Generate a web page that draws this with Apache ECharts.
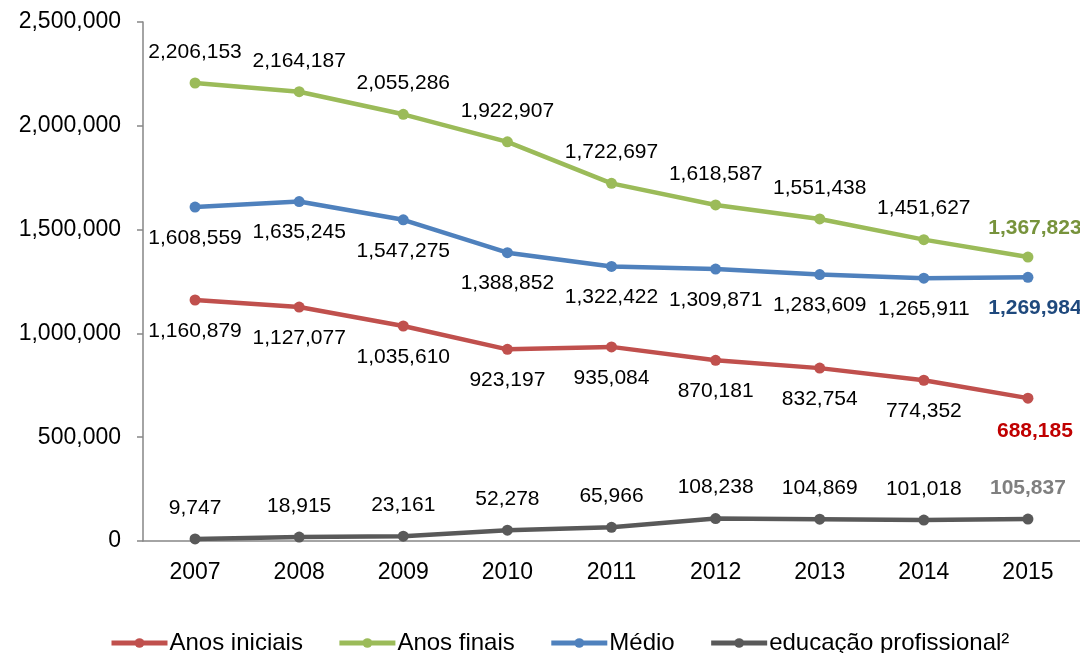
<!DOCTYPE html>
<html><head><meta charset="utf-8">
<script src="https://cdn.jsdelivr.net/npm/echarts@6/dist/echarts.min.js"></script>
<style>html,body{margin:0;padding:0;background:#fff}#c{width:1080px;height:653px}</style>
</head><body><div id="c"></div>
<script>
const years = ['2007','2008','2009','2010','2011','2012','2013','2014','2015'];
const anosIniciais = [1160879,1127077,1035610,923197,935084,870181,832754,774352,688185];
const anosFinais = [2206153,2164187,2055286,1922907,1722697,1618587,1551438,1451627,1367823];
const medio = [1608559,1635245,1547275,1388852,1322422,1309871,1283609,1265911,1269984];
const educProf = [9747,18915,23161,52278,65966,108238,104869,101018,105837];
const seriesNames = ['Anos iniciais','Anos finais','Médio','educação profissional²'];

const fmt = v => v.toLocaleString('en-US');
const FONT = '"Liberation Sans", Arial, sans-serif';

function mkSeries(name, data, color, pos, lastColor, lastOffset) {
  return {
    name, type: 'line', data: data.map((v, i) => {
      if (i === data.length - 1) {
        return { value: v, label: { color: lastColor, fontWeight: 'bold', offset: lastOffset } };
      }
      return v;
    }),
    symbol: 'circle', symbolSize: 11,
    lineStyle: { width: 4.5, color },
    itemStyle: { color },
    label: {
      show: true, position: pos, distance: 15,
      formatter: p => fmt(p.value),
      fontFamily: FONT, fontSize: 21, color: '#000'
    },
    z: 3
  };
}

const chart = echarts.init(document.getElementById('c'), null, { renderer: 'canvas' });
chart.setOption({
  animation: false,
  backgroundColor: '#fff',
  grid: { left: 143, right: -3, top: 22, bottom: 112, containLabel: false },
  xAxis: {
    type: 'category', data: years, boundaryGap: true,
    axisLine: { lineStyle: { color: '#868686', width: 1.5 } },
    axisTick: { show: false },
    axisLabel: { fontFamily: FONT, fontSize: 23, color: '#000', margin: 20 }
  },
  yAxis: {
    type: 'value', min: 0, max: 2500000, interval: 500000,
    axisLine: { show: true, lineStyle: { color: '#868686', width: 1.5 } },
    axisTick: { show: true, length: 6, lineStyle: { color: '#868686', width: 1.5 } },
    splitLine: { show: false },
    axisLabel: { fontFamily: FONT, fontSize: 23, color: '#000', margin: 22, formatter: v => fmt(v) }
  },
  legend: {
    data: seriesNames, left: 109, top: 631, width: 1000, padding: 0,
    itemWidth: 56, itemHeight: 12, itemGap: 34,
    lineStyle: { width: 5 },
    textStyle: { fontFamily: FONT, fontSize: 24, color: '#000', padding: [0,0,0,-3] }
  },
  series: [
    mkSeries(seriesNames[0], anosIniciais, '#C0504D', 'bottom', '#C00000', [7, 2]),
    mkSeries(seriesNames[1], anosFinais, '#9BBB59', 'top', '#77933C', [7, 2]),
    mkSeries(seriesNames[2], medio, '#4F81BD', 'bottom', '#1F497D', [7, 0]),
    mkSeries(seriesNames[3], educProf, '#595959', 'top', '#7F7F7F', [0, 0])
  ]
});
</script></body></html>
